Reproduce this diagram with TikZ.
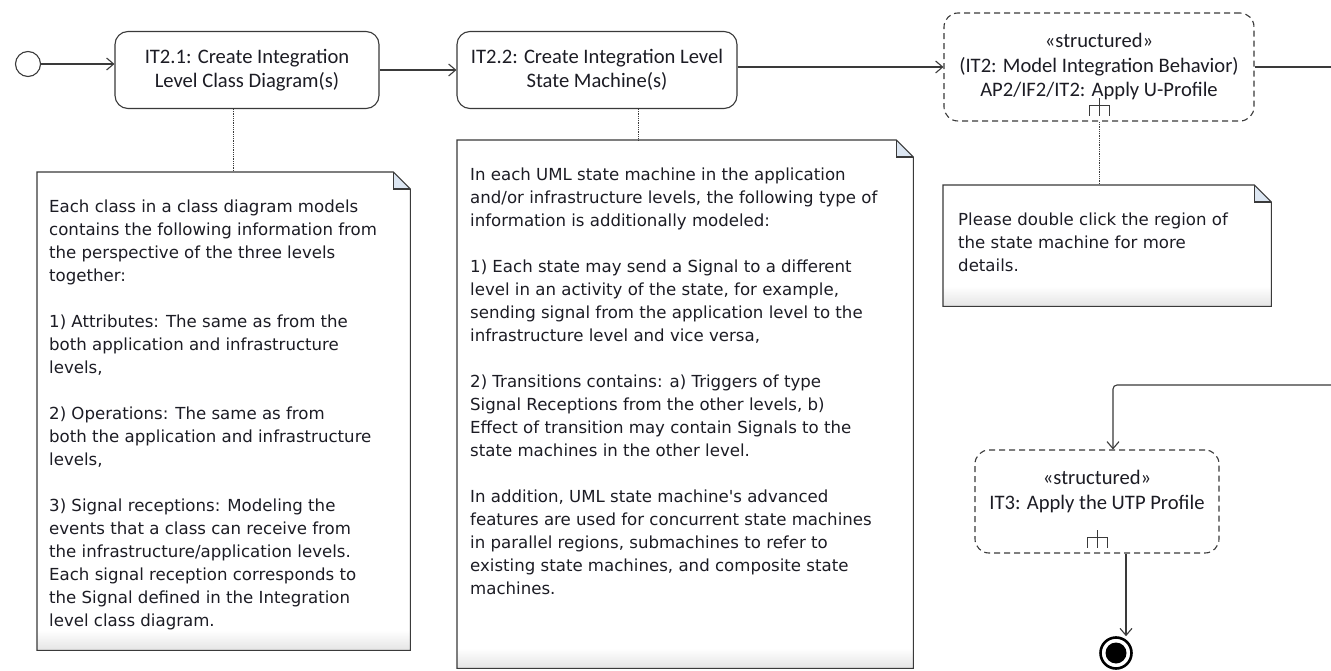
\documentclass[tikz,border=0pt]{standalone}
\usepackage{fontspec}
\setmainfont{DejaVu Sans}
\newfontfamily\boxfont{Carlito}
\newfontfamily\notefont{DejaVu Sans}
\usetikzlibrary{arrows.meta,calc}

\definecolor{edge}{HTML}{3A3A3A}
\definecolor{foldblue}{HTML}{DCE6F2}
\definecolor{notebottom}{HTML}{E4E4E4}
\definecolor{ink}{HTML}{1C1C24}

\tikzset{
  act/.style={draw=edge, line width=1.1pt, rounded corners=13pt, align=center,
    text=ink, font=\boxfont\fontsize{20.6}{24.5}\selectfont, inner sep=0pt},
  structbox/.style={act, dash pattern=on 6pt off 4pt, rounded corners=14pt},
  boxlabel/.style={align=center, text=ink, inner sep=0pt,
    font=\boxfont\fontsize{20.6}{25}\selectfont},
  flow/.style={draw=edge, line width=1.1pt,
    -{Straight Barb[length=7pt,width=12pt,line width=1.1pt]}},
  plainflow/.style={draw=edge, line width=1.1pt},
  anchorline/.style={draw=edge, line width=0.8pt, densely dotted},
  noteframe/.style={inner sep=0pt, anchor=north west},
  notetext/.style={inner sep=0pt, anchor=north west, align=left, text=ink,
    font=\notefont\fontsize{16.6}{23}\selectfont},
  startnode/.style={circle, draw=edge, line width=1.1pt, minimum size=25pt, inner sep=0pt},
  endnode/.style={circle, draw=black, line width=2.6pt, minimum size=31pt, inner sep=0pt},
}

% note with folded corner and a soft grey band along its bottom
\newcommand\drawnote[1]{%
  \fill[white] (#1.south west) rectangle (#1.north east);
  \shade[top color=white, bottom color=notebottom]
    ([yshift=20pt]#1.south west) rectangle (#1.south east);
  \fill[foldblue] ([xshift=-17pt]#1.north east) -- ([yshift=-17pt]#1.north east)
    -- ([xshift=-17pt,yshift=-17pt]#1.north east) -- cycle;
  \draw[edge, line width=1.1pt, line join=miter]
    (#1.north west) -- ([xshift=-17pt]#1.north east) -- ([yshift=-17pt]#1.north east)
    -- (#1.south east) -- (#1.south west) -- cycle;
  \draw[edge, line width=1.1pt]
    ([xshift=-17pt]#1.north east) -- ([xshift=-17pt,yshift=-17pt]#1.north east)
    -- ([yshift=-17pt]#1.north east);
}

% rake symbol of a structured activity, placed above the bottom edge of a node
\newcommand\rakeicon[1]{%
  \draw[edge, line width=1pt]
    ([xshift=-10pt,yshift=6pt]#1.south) -- ([xshift=-10pt,yshift=16pt]#1.south)
    -- ([xshift=10pt,yshift=16pt]#1.south) -- ([xshift=10pt,yshift=6pt]#1.south);
  \draw[edge, line width=1pt]
    ([yshift=6pt]#1.south) -- ([yshift=24pt]#1.south);
}

\begin{document}
\begin{tikzpicture}[x=1pt, y=-1pt]
  \useasboundingbox (0,0) rectangle (1331,671);
  \fill[white] (0,0) rectangle (1331,671);

  % activities
  \node[startnode] (init) at (28,64) {};
  \node[act, minimum width=264pt, minimum height=77pt] (a1) at (247,70)
    {IT2.1: Create Integration\\Level Class Diagram(s)};
  \node[act, minimum width=280pt, minimum height=77pt] (a2) at (597,70)
    {IT2.2: Create Integration Level\\State Machine(s)};
  \node[structbox, minimum width=310pt, minimum height=108pt] (s1) at (1099,67)
    {«structured»\\(IT2: Model Integration Behavior)\\AP2/IF2/IT2: Apply U-Profile};
  \node[structbox, minimum width=244pt, minimum height=103pt] (s2) at (1097,501.5) {};
  \node[boxlabel] (s2text) at ($(s2.center)+(0,-10)$)
    {«structured»\\IT3: Apply the UTP Profile};
  \node[endnode] (final) at (1116,653) {};
  \fill[black] (final.center) circle (10.5pt);

  \rakeicon{s1}
  \rakeicon{s2}

  % control flow
  \coordinate (outR) at (1331,66);
  \coordinate (inR) at (1331,385);
  \draw[flow] (init) -- (init -| a1.west);
  \draw[flow] (a1) -- (a2);
  \draw[flow] (a2.east |- s1.west) -- (s1.west);
  \draw[plainflow] (s1.east) -- (s1.east -| outR);
  \draw[flow, rounded corners=4pt] (inR) -| ([xshift=16pt]s2.north);
  \draw[flow] ([xshift=29pt]s2.south) -- ([xshift=29pt]s2.south |- final.north);

  % notes
  \node[noteframe, minimum width=373pt, minimum height=478pt] (n1) at (37,172) {};
  \node[noteframe, minimum width=456pt, minimum height=528pt] (n2) at (457,140) {};
  \node[noteframe, minimum width=328pt, minimum height=121pt] (n3) at (943,185) {};
  \drawnote{n1}
  \drawnote{n2}
  \drawnote{n3}

  \node[notetext] (n1text) at (49,200) {Each class in a class diagram models\\
contains the following information from\\
the perspective of the three levels\\
together:\\[23pt]
1) Attributes: The same as from the\\
both application and infrastructure\\
levels,\\[23pt]
2) Operations: The same as from\\
both the application and infrastructure\\
levels,\\[23pt]
3) Signal receptions: Modeling the\\
events that a class can receive from\\
the infrastructure/application levels.\\
Each signal reception corresponds to\\
the Signal defined in the Integration\\
level class diagram.};

  \node[notetext] (n2text) at (470,168) {In each UML state machine in the application\\
and/or infrastructure levels, the following type of\\
information is additionally modeled:\\[23pt]
1) Each state may send a Signal to a different\\
level in an activity of the state, for example,\\
sending signal from the application level to the\\
infrastructure level and vice versa,\\[23pt]
2) Transitions contains: a) Triggers of type\\
Signal Receptions from the other levels, b)\\
Effect of transition may contain Signals to the\\
state machines in the other level.\\[23pt]
In addition, UML state machine's advanced\\
features are used for concurrent state machines\\
in parallel regions, submachines to refer to\\
existing state machines, and composite state\\
machines.};

  \node[notetext] (n3text) at (958,213) {Please double click the region of\\
the state machine for more\\
details.};

  % note attachments
  \coordinate (a1d) at ($(a1.south)+(-14,0)$);
  \coordinate (a2d) at ($(a2.south)+(41,0)$);
  \draw[anchorline] (a1d) -- (a1d |- n1.north);
  \draw[anchorline] (a2d) -- (a2d |- n2.north);
  \draw[anchorline] ([yshift=-0.5pt]s1.south) -- (s1.south |- n3.north);
\end{tikzpicture}
\end{document}
